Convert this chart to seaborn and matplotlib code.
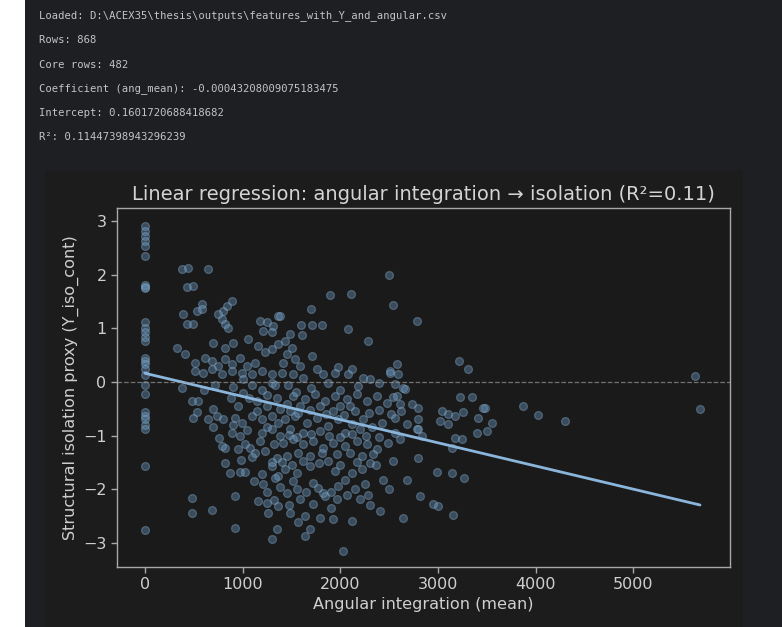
import matplotlib
matplotlib.use("Agg")
import matplotlib.pyplot as plt
from matplotlib.patches import Rectangle
import numpy as np
import pandas as pd
import seaborn as sns

# ---- console summary printed above the plot ----
csv_path = r"D:\ACEX35\thesis\outputs\features_with_Y_and_angular.csv"
n_rows = 868
n_core = 482
coef_ang = -0.00043208009075183475
intercept = 0.1601720688418682
r2 = 0.11447398943296239

# ---- core rows: mean angular integration vs. structural isolation proxy ----
ang_zero_y = [2.91, 2.82, 2.72, 2.63, 2.54, 2.35, 1.80, 1.77, 1.74, 1.11, 1.01, 0.92,
              0.83, 0.76, 0.45, 0.39, 0.33, 0.24, 0.12, -0.05, -0.22, -0.57, -0.63,
              -0.69, -0.80, -0.88, -1.57, -2.76]

ang_low = [376, 443, 648, 427, 495, 580, 529, 580, 887, 836, 801, 750, 785, 819, 853,
           392, 427, 495, 1177, 1245, 1313, 1364, 1211, 1296, 324, 409, 699, 819, 904,
           1057, 512, 614, 682, 750, 819, 887, 972, 1041, 1126, 1160, 1228, 1296, 1364,
           512, 597, 682, 785, 887, 990, 1092, 1194, 1296, 1399,
           1100, 1200, 1300, 1000, 900, 1150, 1350, 1250, 950, 376]
iso_low = [2.10, 2.13, 2.10, 1.76, 1.79, 1.45, 1.32, 1.36, 1.51, 1.42, 1.32, 1.26, 1.17,
           1.08, 1.01, 1.26, 1.08, 1.08, 1.14, 1.11, 1.04, 1.23, 0.95, 0.92, 0.64, 0.52,
           0.73, 0.64, 0.73, 0.80, 0.36, 0.45, 0.39, 0.30, 0.42, 0.33, 0.45, 0.30, 0.36,
           0.67, 0.55, 0.61, 0.70, 0.21, 0.17, 0.24, 0.14, 0.21, 0.17, 0.14, 0.21, 0.14,
           0.17, -0.05, -0.15, -0.02, -0.20, -0.10, -0.35, -0.30, -0.45, -0.45, -0.11]

ang_upper = [2500, 2541, 2787, 3217, 3309, 5630, 5681, 3872, 2508, 2576, 2559, 2644, 2541,
             2610, 3224, 3344, 3480, 1894, 2109, 1699, 1594, 1706, 1808, 2081, 1382, 1604,
             2286, 1484, 1433, 1502, 1450, 1535, 1416, 1706, 1979, 1945, 2081, 2116, 2508,
             2593, 1586, 1757, 1825, 1620, 1518, 2234, 2303]
iso_upper = [1.99, 1.44, 1.14, 0.39, 0.24, 0.11, -0.51, -0.45, 0.21, 0.33, -0.04, -0.11,
             -0.29, -0.42, -0.29, -0.28, -0.48, 1.62, 1.64, 1.36, 1.06, 1.06, 1.06, 0.99,
             1.23, 0.87, 0.76, 0.89, 0.76, 0.64, 0.52, 0.42, 0.36, 0.49, 0.27, 0.17, 0.14,
             0.24, 0.17, 0.14, 0.30, 0.24, 0.14, 0.08, 0.14, 0.08, 0.05]

ang_mid = [1518, 1638, 1740, 1842, 1945, 2064, 2167, 2269, 2372, 2474, 2576, 2661, 2730,
           1450, 1586, 1791, 1996, 2098,
           1433, 1535, 1655, 1757, 1876, 1979, 2116, 2234, 2320, 2423, 2559, 2678, 2781,
           1484, 1620, 1791, 2047, 2201,
           1416, 1518, 1620, 1723, 1825, 1927, 2047, 2167, 2269, 2372, 2490, 2610,
           1450, 1569, 1689, 1808, 1962, 2098, 2218, 2337,
           1433, 1553, 1689, 1723, 1825, 1945, 2047, 2116, 2218, 2252, 2303, 2439, 2678,
           1979, 1518,
           1450, 1586, 1723, 1842, 1962, 2064, 2201, 1484, 1638, 1791, 1927, 2116, 2405,
           2644, 1569, 1689, 1638, 2030]
iso_mid = [-0.26, -0.32, -0.23, -0.35, -0.26, -0.32, -0.23, -0.35, -0.26, -0.39, -0.26,
           -0.14, -0.42, -0.42, -0.45, -0.45, -0.45, -0.45,
           -0.70, -0.63, -0.76, -0.67, -0.82, -0.70, -0.79, -0.70, -0.85, -0.76, -0.67,
           -0.79, -0.88, -0.88, -0.95, -0.91, -0.95, -0.88,
           -1.13, -1.07, -1.16, -1.10, -1.23, -1.13, -1.19, -1.10, -1.16, -1.26, -1.13,
           -1.07, -1.38, -1.32, -1.38, -1.32, -1.35, -1.32, -1.38, -1.35,
           -1.63, -1.69, -1.57, -1.88, -2.07, -1.66, -1.82, -1.69, -1.63, -1.91, -1.51,
           -1.82, -1.82, -1.94, -1.85,
           -2.07, -2.19, -2.28, -2.13, -2.19, -2.10, -2.19, -2.44, -2.50, -2.53, -2.56,
           -2.59, -2.41, -2.53, -2.62, -2.75, -2.87, -3.15]

ang_dense = [1460, 1700, 1870, 2000, 2180, 2400, 1550,
             1480, 1570, 1690, 1850, 1920, 2040, 2150, 2290, 2400, 2520, 2620,
             1470, 1560, 1700, 1880, 2000, 2120, 2260, 2390, 2560,
             1400, 1500, 1620, 1780, 1870, 2000, 2170, 2360, 2540,
             1380, 1560, 1650, 1770, 1900, 2150, 2280, 2500, 1320, 1470, 1900, 2300]
iso_dense = [-0.05, -0.12, -0.02, -0.15, -0.08, -0.02, -0.18,
             -0.55, -0.58, -0.52, -0.60, -0.55, -0.62, -0.55, -0.58, -0.52, -0.60, -0.55,
             -0.99, -1.02, -0.98, -1.00, -1.03, -0.98, -1.00, -1.02, -0.95,
             -1.50, -1.55, -1.48, -1.52, -1.47, -1.55, -1.50, -1.55, -1.48,
             -1.95, -2.00, -2.05, -1.98, -2.05, -2.00, -2.10, -2.00, -2.20, -2.30, -2.35,
             -2.30]

ang_left = [478, 546, 495, 529, 699, 734, 648, 801, 887, 972, 819, 1023, 1075, 921, 990,
            1092, 1194, 1296, 1364, 1194, 1296, 1382, 1126, 1228, 1348, 870, 972, 1023,
            1194, 1211, 1296, 1364, 478, 478, 682, 921, 921, 1160, 1245, 1262, 1364, 1348,
            1296, 785, 819,
            700, 760, 900, 950, 1040, 1100, 1150, 1180, 1250, 1300, 1320, 1380, 980, 1120,
            1250, 1330, 880, 1060, 1250, 1330, 600, 720, 1000]
iso_left = [-0.35, -0.35, -0.67, -0.57, -0.51, -0.63, -0.70, -0.70, -0.95, -1.01, -1.23,
            -1.16, -1.23, -0.67, -0.76, -0.63, -0.70, -0.63, -0.76, -0.95, -0.88, -1.01,
            -1.32, -1.29, -1.41, -1.69, -1.68, -1.68, -1.72, -1.91, -1.57, -1.75, -2.16,
            -2.44, -2.39, -2.13, -2.72, -2.22, -2.25, -2.44, -2.31, -2.75, -2.93, -1.19,
            -1.51,
            -0.85, -1.05, -0.80, -1.25, -0.90, -1.40, -0.55, -1.10, -0.85, -1.50, -1.15,
            -0.50, -1.45, -1.85, -2.05, -1.80, -0.30, -0.30, -0.25, -0.05, -0.15, -0.05,
            0.05]

ang_right = [2798, 3037, 3104, 3173, 3258, 3411, 3463, 3549, 3497, 3395, 3019, 3104, 2798,
             2798, 2832, 4026, 4299, 3173, 3241, 3139, 2798, 2986, 3139, 3268, 2815, 2951,
             3002, 3156]
iso_right = [-0.48, -0.54, -0.60, -0.63, -0.57, -0.67, -0.48, -0.76, -0.91, -0.95, -0.73,
             -0.79, -0.70, -0.88, -1.01, -0.62, -0.73, -1.04, -1.07, -1.23, -1.41, -1.68,
             -1.70, -1.79, -2.13, -2.28, -2.31, -2.49]

ang_mean = ([0] * len(ang_zero_y) + ang_low + ang_upper + ang_mid + ang_dense
            + ang_left + ang_right)
y_iso = ang_zero_y + iso_low + iso_upper + iso_mid + iso_dense + iso_left + iso_right
core = pd.DataFrame({"ang_mean": ang_mean, "Y_iso_cont": y_iso})

# fitted line from the reported coefficient and intercept
x_fit = np.array([core["ang_mean"].min(), core["ang_mean"].max()])
fit = pd.DataFrame({"ang_mean": x_fit, "Y_hat": intercept + coef_ang * x_fit})

# ---- styling ----
sns.set_theme(style="dark")
text_col = "#cfcfcf"
plt.rcParams.update({
    "axes.edgecolor": "#a8a8a8",
    "axes.labelcolor": text_col,
    "xtick.color": "#a8a8a8",
    "ytick.color": "#a8a8a8",
    "xtick.labelcolor": text_col,
    "ytick.labelcolor": text_col,
    "text.color": text_col,
})
plt.rcParams["font.family"] = ["DejaVu Sans"]

W, H = 782, 627
fig = plt.figure(figsize=(W / 100, H / 100), dpi=100)
fig.patch.set_facecolor("white")
# notebook output panel and figure canvas
fig.add_artist(Rectangle((25 / W, 0), 1, 1, transform=fig.transFigure,
                         facecolor="#1e1f22", edgecolor="none", zorder=-10))
fig.add_artist(Rectangle((45 / W, 0), (743 - 45) / W, (627 - 170) / H,
                         transform=fig.transFigure, facecolor="#1c1c1c",
                         edgecolor="none", zorder=-9))

log_lines = [
    f"Loaded: {csv_path}",
    f"Rows: {n_rows}",
    f"Core rows: {n_core}",
    f"Coefficient (ang_mean): {coef_ang}",
    f"Intercept: {intercept}",
    f"R\u00b2: {r2}",
]
for i, line in enumerate(log_lines):
    fig.text(39 / W, 1 - (16 + 24.3 * i) / H, line, family="DejaVu Sans Mono",
             fontsize=7.6, color="#c4c4c4", va="center", ha="left")

ax = fig.add_axes([117 / W, 1 - 567 / H, (730 - 117) / W, (567 - 208) / H])
ax.set_facecolor("#1a1a1a")

sns.scatterplot(data=core, x="ang_mean", y="Y_iso_cont", ax=ax, s=32,
                color="#6f9ec8", alpha=0.38, edgecolor="#8ab4d8", linewidth=0.9)
sns.lineplot(data=fit, x="ang_mean", y="Y_hat", ax=ax, color="#8bb6dc", linewidth=2)
ax.axhline(0, color="#9a9a9a", linestyle="--", linewidth=0.9, alpha=0.7)

ax.set_xlim(-287, 5988)
ax.set_ylim(-3.45, 3.24)
ax.set_xticks([0, 1000, 2000, 3000, 4000, 5000])
ax.set_yticks([-3, -2, -1, 0, 1, 2, 3])
ax.tick_params(axis="both", which="major", length=4, width=1, labelsize=11.5,
               bottom=True, left=True)
for sp in ax.spines.values():
    sp.set_color("#a8a8a8")
    sp.set_linewidth(1)

ax.set_title(f"Linear regression: angular integration \u2192 isolation (R\u00b2={r2:.2f})",
             fontsize=14, color="#d4d4d4", pad=6)
ax.set_xlabel("Angular integration (mean)", fontsize=11.6, labelpad=3)
ax.set_ylabel("Structural isolation proxy (Y_iso_cont)", fontsize=11.6, labelpad=3)

fig.savefig("out.png", dpi=100, facecolor=fig.get_facecolor())
